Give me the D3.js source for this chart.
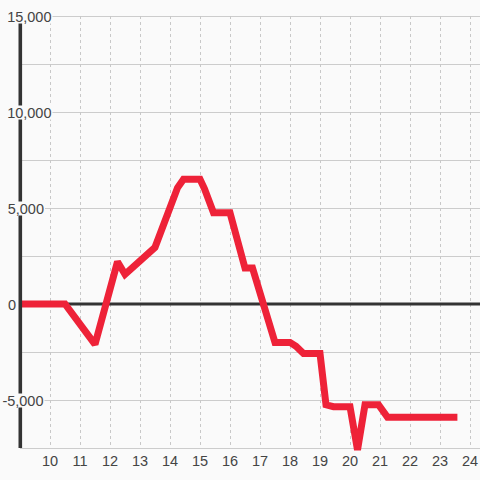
<!DOCTYPE html>
<html>
<head>
<meta charset="utf-8">
<script src="https://cdn.jsdelivr.net/npm/d3@7"></script>
<style>
html,body{margin:0;padding:0;background:#fafafa;}
svg{display:block;}
text{font-family:"Liberation Sans",Arial,sans-serif;}
</style>
</head>
<body>
<script>
// Data
const hours  = [9, 10.5, 11.5, 12.25, 12.5, 13.5, 14.25, 14.45, 15.0, 15.15, 15.45, 16.0, 16.5, 16.75, 17.5, 18.0, 18.2, 18.45, 19.0, 19.2, 19.45, 20.0, 20.25, 20.5, 20.95, 21.25, 23.58];
const values = [0, 0, -2100, 2200, 1550, 2950, 6050, 6500, 6500, 6000, 4750, 4750, 1870, 1870, -2000, -2000, -2200, -2580, -2580, -5250, -5350, -5350, -7600, -5250, -5250, -5900, -5900];
const yTickValues = [15000, 10000, 5000, 0, -5000];
const yGridValues = [15000, 12500, 10000, 7500, 5000, 2500, -2500, -5000, -7500];
const xTickValues = [10, 11, 12, 13, 14, 15, 16, 17, 18, 19, 20, 21, 22, 23, 24];

const W = 480, H = 480;
const svg = d3.select("body").append("svg").attr("width", W).attr("height", H);
svg.append("rect").attr("width", W).attr("height", H).attr("fill", "#fafafa");

const x = d3.scaleLinear().domain([9, 9 + 460/30]).range([20, 480]);
const y = d3.scaleLinear().domain([-7500, 15000]).range([448, 16]);

// horizontal gridlines
svg.append("g").selectAll("line").data(yGridValues).join("line")
  .attr("x1", 20).attr("x2", 480)
  .attr("y1", d => y(d) + 0.5).attr("y2", d => y(d) + 0.5)
  .attr("stroke", "#cccccc").attr("stroke-width", 1);

// vertical dashed gridlines
svg.append("g").selectAll("line").data(xTickValues).join("line")
  .attr("x1", d => x(d) + 0.5).attr("x2", d => x(d) + 0.5)
  .attr("y1", y(15000)).attr("y2", y(-7500))
  .attr("stroke", "#c8c8c8").attr("stroke-width", 1)
  .attr("stroke-dasharray", "3,3");

// zero line
svg.append("line")
  .attr("x1", 20).attr("x2", 480)
  .attr("y1", y(0)).attr("y2", y(0))
  .attr("stroke", "#333").attr("stroke-width", 3);

// data line
const pts = hours.map((h, i) => [h, values[i]]);
svg.append("path")
  .attr("d", d3.line().x(d => x(d[0])).y(d => y(d[1]))(pts))
  .attr("fill", "none").attr("stroke", "#ee2238")
  .attr("stroke-width", 7).attr("stroke-linejoin", "miter").attr("stroke-miterlimit", 2);

// y axis line
svg.append("line")
  .attr("x1", 20.3).attr("x2", 20.3)
  .attr("y1", y(15000)).attr("y2", y(-7500))
  .attr("stroke", "#333").attr("stroke-width", 3.6);

// y labels (with background)
const labelEnd = {15000: 51.5, 10000: 51.5, 5000: 44, 0: 16, "-5000": 43.5};
const fmt = d3.format(",");
const yl = svg.append("g");
yTickValues.forEach(v => {
  const t = yl.append("text")
    .attr("x", labelEnd[v]).attr("y", y(v) + 5.5)
    .attr("text-anchor", "end")
    .attr("font-size", 14.5).attr("fill", "#444")
    .text(v < 0 ? "-" + fmt(-v) : fmt(v));
  const b = t.node().getBBox();
  yl.insert("rect", () => t.node())
    .attr("x", b.x - 1).attr("y", y(v) - 6.5)
    .attr("width", b.width + 2).attr("height", 14)
    .attr("fill", "#fafafa");
});

// x labels
svg.append("g").selectAll("text").data(xTickValues).join("text")
  .attr("x", d => x(d)).attr("y", 466)
  .attr("text-anchor", "middle")
  .attr("font-size", 14.5).attr("fill", "#444")
  .text(d => d);
</script>
</body>
</html>
